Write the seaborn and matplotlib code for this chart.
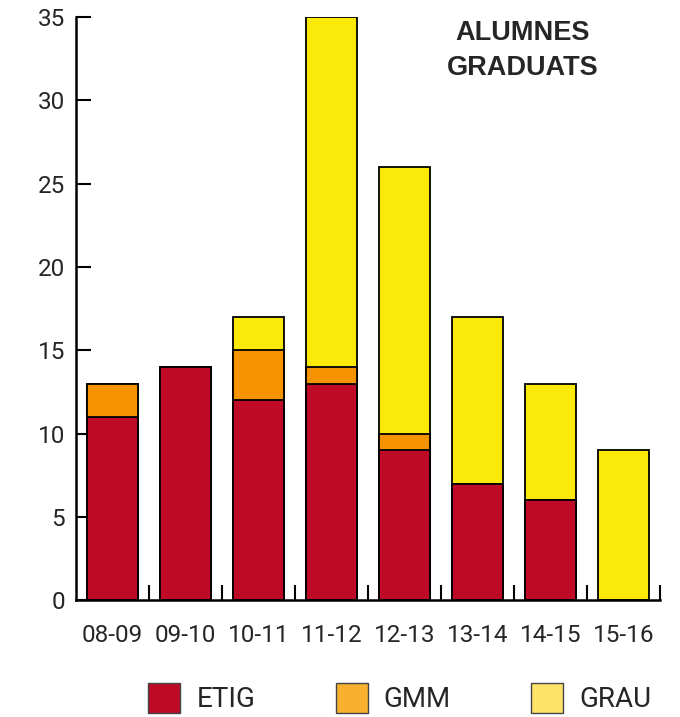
#
#   alumnes graduats per curs i titulacio (barres apilades)
#

import matplotlib
matplotlib.use("Agg")
import matplotlib.pyplot as plt
import numpy as np
import seaborn as sns
from matplotlib.patches import Patch

cursos = ["08-09", "09-10", "10-11", "11-12", "12-13", "13-14", "14-15", "15-16"]
etig = [11, 14, 12, 13, 9, 7, 6, 0]
gmm = [2, 0, 3, 1, 1, 0, 0, 0]
grau = [0, 0, 2, 21, 16, 10, 7, 9]

sns.set_style("white")
plt.rcParams['font.family'] = ['Roboto', 'DejaVu Sans']

red, orange, yellow = "#BE0A26", "#F59300", "#FBE90A"

etig_top = np.array(etig)
gmm_top = etig_top + np.array(gmm)
grau_top = gmm_top + np.array(grau)

fig = plt.figure(figsize=(6.8, 7.17), dpi=100)
ax = fig.add_axes([0.112, 0.163, 0.859, 0.813])

# tallest first, the lower segments are painted over it
sns.barplot(x=cursos, y=grau_top, color=yellow, width=0.7, saturation=1,
            edgecolor="black", linewidth=1.3, ax=ax)
sns.barplot(x=cursos, y=gmm_top, color=orange, width=0.7, saturation=1,
            edgecolor="black", linewidth=1.3, ax=ax)
sns.barplot(x=cursos, y=etig_top, color=red, width=0.7, saturation=1,
            edgecolor="black", linewidth=1.3, ax=ax)

ax.set_xlim(-0.5, 7.5)
ax.set_ylim(0, 35)
ax.set_yticks(range(0, 36, 5))
ax.set_xticks(range(len(cursos)), cursos)
ax.set_xticks(np.arange(0.5, 8, 1), minor=True)
ax.set_xlabel("")
ax.set_ylabel("")

for s in ["top", "right"]:
    ax.spines[s].set_visible(False)
for s in ["left", "bottom"]:
    ax.spines[s].set_linewidth(1.8)
    ax.spines[s].set_color("black")

ax.tick_params(axis="x", which="major", length=0, pad=17, labelsize=17.5)
ax.tick_params(axis="x", which="minor", direction="in", length=10.5, width=1.5,
               color="black", bottom=True)
ax.tick_params(axis="y", direction="in", length=10.5, width=1.5, color="black",
               pad=8, labelsize=17.5, left=True)

ax.text(0.764, 0.995, "ALUMNES\nGRADUATS", transform=ax.transAxes,
        ha="center", va="top", fontsize=19.5, fontweight="bold",
        family=["Liberation Sans", "DejaVu Sans"], linespacing=1.42)

handles = [Patch(facecolor="#BE0A26", edgecolor="#444444", label="ETIG"),
           Patch(facecolor="#F7B12F", edgecolor="#444444", label="GMM"),
           Patch(facecolor="#FDE36A", edgecolor="#444444", label="GRAU")]
fig.legend(handles=handles, loc="upper left", bbox_to_anchor=(0.218, 0.047),
           ncol=3, frameon=False, fontsize=20, handlelength=1.15, handleheight=1.26,
           handletextpad=0.58, columnspacing=2.9, borderpad=0, borderaxespad=0)

fig.savefig("out.png", dpi=100)
